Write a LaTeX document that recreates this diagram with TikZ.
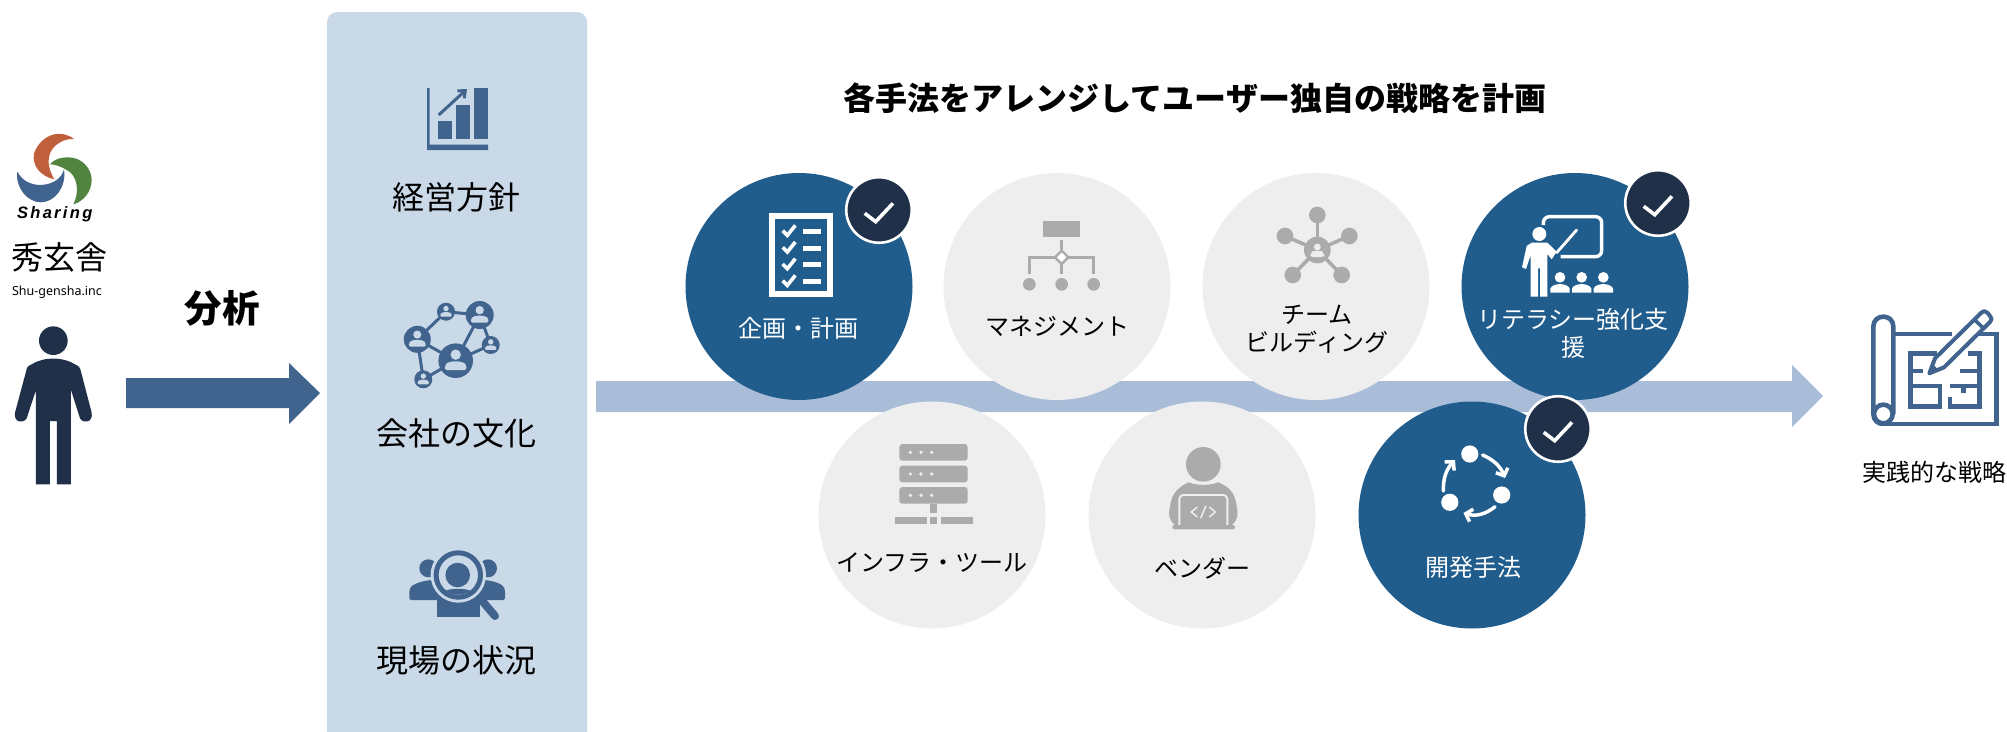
\documentclass[tikz,border=0pt]{standalone}
\usepackage{fontspec}
\usetikzlibrary{arrows.meta}
\setmainfont{Noto Sans CJK JP}
\newfontfamily\sharefont[LetterSpace=14]{Liberation Sans}
\newfontfamily\latinfont{Noto Sans}
\definecolor{panelblue}{HTML}{CAD9E7}
\definecolor{steel}{HTML}{41648F}
\definecolor{lightarrow}{HTML}{A9BDD9}
\definecolor{navy}{HTML}{203049}
\definecolor{deepblue}{HTML}{205C8C}
\definecolor{paper}{HTML}{EEEEEE}
\definecolor{icongray}{HTML}{ABABAB}
\definecolor{logoorange}{HTML}{C05F3C}
\definecolor{logogreen}{HTML}{50843F}
\tikzset{
  lab/.style={inner sep=0pt,align=center,text=black,font=\fontsize{24}{28}\selectfont},
  wlab/.style={lab,text=white},
  panellab/.style={inner sep=0pt,font=\fontsize{32}{36}\selectfont},
  darkdisc/.style={circle,fill=deepblue,minimum size=227pt,inner sep=0pt},
  graydisc/.style={circle,fill=paper,minimum size=227pt,inner sep=0pt},
  badge/.style={circle,fill=navy,draw=white,line width=2.6pt,minimum size=65.5pt,inner sep=0pt},
  tick/.style={white,line width=3.6pt,line join=miter},
  zoomed/.style={scale=0.33333},
}
\newcommand{\tickmark}[1]{\draw[tick] ([shift={(-14.3,3.3)}]#1.center) -- ([shift={(-3.3,11.7)}]#1.center) -- ([shift={(14,-6.7)}]#1.center);}
\newcommand{\miniperson}[4]{% x y size colour
  \fill[#4] (#1,#2-0.35*#3) circle[radius=0.3*#3 pt];
  \fill[#4,rounded corners=0.1*#3 pt] (#1-0.62*#3,#2+0.55*#3) -- (#1-0.62*#3,#2+0.28*#3) .. controls (#1-0.4*#3,#2-0.02*#3) and (#1+0.4*#3,#2-0.02*#3) .. (#1+0.62*#3,#2+0.28*#3) -- (#1+0.62*#3,#2+0.55*#3) -- cycle;}
\begin{document}
\begin{tikzpicture}[x=1pt,y=-1pt]
\useasboundingbox (0,0) rectangle (2007,731);
% ---------- logo
\begin{scope}[shift={(0,125)},zoomed]
  \fill[logoorange] (222,42) .. controls (185,12) and (125,25) .. (102,85) .. controls (95,125) and (125,155) .. (163,163)
     .. controls (150,140) and (140,115) .. (150,85) .. controls (160,60) and (190,40) .. (222,42) -- cycle;
  \fill[steel] (52,140) .. controls (45,190) and (85,232) .. (122,232) .. controls (165,232) and (200,185) .. (192,133)
     .. controls (185,160) and (160,178) .. (122,180) .. controls (90,180) and (65,165) .. (52,140) -- cycle;
  \fill[logogreen] (150,118) .. controls (165,100) and (185,97) .. (205,97) .. controls (245,97) and (275,130) .. (275,165)
     .. controls (275,200) and (250,230) .. (220,238) .. controls (240,200) and (232,150) .. (200,135) .. controls (185,125) and (165,118) .. (150,118) -- cycle;
\end{scope}
\node[inner sep=0pt] (sharing) at (54.7,214) {\sharefont\fontsize{16.5}{18}\selectfont\bfseries\itshape Sharing};
\node[inner sep=0pt] (company) at (59,257) {\fontsize{32}{34}\selectfont 秀玄舎};
\node[inner sep=0pt] (companyen) at (57,292) {\latinfont\fontsize{12.5}{15}\selectfont Shu-gensha.inc};
% ---------- person
\begin{scope}[shift={(0,110)},zoomed]
  \fill[navy] (160,692) circle[radius=43pt];
  \fill[navy] (108,1123) -- (108,840) -- (80,925) .. controls (70,942) and (40,938) .. (45,908) -- (78,785)
    .. controls (80,770) and (85,768) .. (95,763) .. controls (130,740) and (190,740) .. (225,763)
    .. controls (235,768) and (240,770) .. (243,785) -- (275,908) .. controls (280,938) and (250,942) .. (240,925)
    -- (213,840) -- (213,1123) -- (171,1123) -- (171,933) -- (150,933) -- (150,1123) -- cycle;
\end{scope}
% ---------- analysis arrow
\fill[steel] (126,378) -- (289,378) -- (289,363) -- (320,393) -- (289,424) -- (289,408) -- (126,408) -- cycle;
\node[inner sep=0pt,font=\fontsize{37.5}{40}\selectfont\bfseries] (analysis) at (222,308) {分析};
% ---------- panel
\fill[panelblue,rounded corners=10pt] (327,12) -- (587,12) -- (587,760) -- (327,760) -- cycle;
\node[panellab] (p1) at (456,197) {経営方針};
\node[panellab] (p2) at (456,433) {会社の文化};
\node[panellab] (p3) at (456,660) {現場の状況};
% chart icon
\fill[steel] (427,88) -- (429.5,88) -- (429.5,144.5) -- (488,144.5) -- (488,150) -- (427,150) -- cycle;
\fill[steel] (438.3,121) rectangle (451.7,139);
\fill[steel] (456,105) rectangle (470,139);
\fill[steel] (474,88) rectangle (488,139);
\draw[steel,line width=3pt,-{Straight Barb[length=6pt,width=10pt]}] (438.7,115) -- (467,89);
% network icon
\draw[steel,line width=3pt] (417.3,339.3) -- (446,311.7) -- (479.7,315) -- (455.7,360.7) -- (417.3,339.3) -- (423.3,379.3) -- (455.7,360.7) -- (490.7,345) -- (479.7,315);
\foreach \nx/\ny/\nr in {455.7/360.7/17.3,417.3/339.3/13.5,479.7/315/14,446/311.7/9,490.7/345/9,423.3/379.3/9}{
  \fill[steel] (\nx,\ny) circle[radius=\nr pt];
  \miniperson{\nx}{\ny}{\nr}{panelblue}
}
% magnifier icon
\fill[steel] (428.3,568.3) circle[radius=9pt];
\fill[steel] (488,568.3) circle[radius=9pt];
\fill[steel,rounded corners=2pt] (409.3,600) -- (409.3,590) .. controls (412,584) and (422,581) .. (432,580) -- (484,580) .. controls (494,581) and (503,584) .. (505,590) -- (505,600) -- cycle;
\fill[steel] (436.7,617) rectangle (480,600);
\fill[panelblue] (458.3,575) circle[radius=27.7pt];
\draw[steel,line width=5pt] (458.3,575) circle[radius=22.2pt];
\begin{scope}
  \clip (458.3,575) circle[radius=18.5pt];
  \fill[steel] (457.7,575) circle[radius=12.3pt];
\end{scope}
\begin{scope}
  \clip (458.3,575) circle[radius=19.7pt];
  \fill[steel] (432,610) -- (432,600) .. controls (441,585) and (475,585) .. (484,600) -- (484,610) -- cycle;
\end{scope}
\draw[steel,line width=8pt,line cap=round] (480,598.3) -- (495,616);
% ---------- main arrow
\fill[lightarrow] (596,381) -- (1792,381) -- (1792,365) -- (1823,396) -- (1792,427) -- (1792,412) -- (596,412) -- cycle;
\node[inner sep=0pt,font=\fontsize{32}{36}\selectfont\bfseries] (title) at (1195,98) {各手法をアレンジしてユーザー独自の戦略を計画};
% ---------- discs
\node[darkdisc] (c1) at (799,286.5) {};
\node[graydisc] (c2) at (1057,286.5) {};
\node[graydisc] (c3) at (1316,286.5) {};
\node[darkdisc] (c4) at (1575,286.5) {};
\node[graydisc] (c5) at (932,515) {};
\node[graydisc] (c6) at (1202,515) {};
\node[darkdisc] (c7) at (1472,515) {};
\node[badge] (b1) at (879,210) {};
\node[badge] (b4) at (1658,203) {};
\node[badge] (b7) at (1558,429) {};
\tickmark{b1}\tickmark{b4}\tickmark{b7}
\node[wlab] (l1) at (798,328) {企画・計画};
\node[lab] (l2) at (1057,326) {マネジメント};
\node[lab] (l3) at (1317,329.5) {チーム\\ビルディング};
\node[wlab] (l4) at (1573,333.5) {リテラシー強化支\\援};
\node[lab] (l5) at (932,563) {インフラ・ツール};
\node[lab] (l6) at (1202,568) {ベンダー};
\node[wlab] (l7) at (1473,567) {開発手法};
\node[lab] (l8) at (1934,472) {実践的な戦略};
% checklist icon
\begin{scope}[shift={(670,160)},zoomed]
  \draw[white,line width=6pt] (305,169) rectangle (481,402);
  \foreach \yy in {214,264,314,364}{
    \fill[white] (400,\yy-7) rectangle (453,\yy+8);
    \draw[white,line width=3.6pt] (338,\yy-2) -- (352,\yy+12) -- (376,\yy-18);
  }
\end{scope}
% organisation icon
\begin{scope}[shift={(670,160)},zoomed]
  \fill[icongray] (1119,183) rectangle (1230,231);
  \draw[icongray,line width=3.6pt] (1175,240) -- (1175,342);
  \draw[icongray,line width=3.6pt] (1078,342) -- (1078,292) -- (1271,292) -- (1271,342);
  \draw[icongray,fill=white,line width=2.4pt] (1175,272) -- (1195,292) -- (1175,312) -- (1155,292) -- cycle;
  \foreach \xx in {1078,1175,1271}{\fill[icongray] (\xx,373) circle[radius=19pt];}
\end{scope}
% team icon
\begin{scope}[shift={(1190,160)},zoomed]
  \foreach \xx/\yy in {382/165,285/228,478/228,308/345,455/345}{
    \draw[icongray,line width=3.6pt] (382,270) -- (\xx,\yy);
    \fill[icongray] (\xx,\yy) circle[radius=25pt];
  }
  \fill[icongray] (382,270) circle[radius=40pt];
  \miniperson{382}{273}{34}{paper}
\end{scope}
% teacher icon
\begin{scope}[shift={(1190,160)},zoomed]
  \draw[white,line width=3.4pt,rounded corners=6pt] (1060,195) -- (1060,170) -- (1235,170) -- (1235,290) -- (1112,290);
  \fill[white] (1048,222) circle[radius=21pt];
  \fill[white] (1025,248) -- (1072,248) -- (1100,275) -- (1085,298) -- (1072,282) -- (1072,410) -- (1050,410) -- (1050,325) -- (1044,325) -- (1044,410) -- (1022,410) -- (1022,285) -- (1008,327) -- (996,322) -- (1010,258) -- cycle;
  \draw[white,line width=2.8pt,line cap=round] (1100,278) -- (1160,210);
  \foreach \xx in {1110,1175,1240}{
    \fill[white] (\xx,352) circle[radius=16pt];
    \fill[white] (\xx-29,398) -- (\xx-29,385) .. controls (\xx-20,368) and (\xx+20,368) .. (\xx+29,385) -- (\xx+29,398) -- cycle;
  }
\end{scope}
% server icon
\begin{scope}[shift={(800,395)},zoomed]
  \foreach \yy in {147,212,276}{
    \fill[icongray,rounded corners=3pt] (298,\yy) rectangle (503,\yy+50);
    \foreach \xx in {331,363,395}{\fill[paper] (\xx,\yy+25) circle[radius=5.5pt];}
  }
  \fill[icongray] (390,326) rectangle (411,355);
  \fill[icongray] (285,366) rectangle (380,386);
  \fill[icongray] (390,366) rectangle (411,386);
  \fill[icongray] (423,366) rectangle (519,386);
\end{scope}
% vendor icon
\begin{scope}[shift={(800,395)},zoomed]
  \fill[icongray] (1210,208) circle[radius=52pt];
  \fill[icongray] (1125,390) .. controls (1105,375) and (1105,355) .. (1110,335) .. controls (1115,290) and (1140,275) .. (1165,262) .. controls (1190,272) and (1230,272) .. (1255,262) .. controls (1285,275) and (1305,290) .. (1310,335) .. controls (1315,355) and (1315,375) .. (1295,390) -- cycle;
  \draw[paper,line width=1.9pt,rounded corners=4pt] (1138,392) -- (1138,300) -- (1282,300) -- (1282,392);
  \fill[icongray,rounded corners=2pt] (1117,390) rectangle (1305,403);
  \draw[paper,line width=1.5pt] (1192,336) -- (1174,351) -- (1192,366);
  \draw[paper,line width=1.5pt] (1228,336) -- (1246,351) -- (1228,366);
  \draw[paper,line width=1.5pt] (1218,332) -- (1202,370);
\end{scope}
% cycle icon
\foreach \xx/\yy in {1469.8/454,1501.7/495,1449.8/502.3}{\fill[white] (\xx,\yy) circle[radius=8.6pt];}
\draw[white,line width=3.5pt,line cap=round,-{Straight Barb[length=6pt,width=13pt]}] (1482.6,455) to[bend left=22] (1505,478);
\draw[white,line width=3.5pt,line cap=round,-{Straight Barb[length=6pt,width=13pt]}] (1495,506.7) to[bend left=28] (1463.4,513);
\draw[white,line width=3.5pt,line cap=round,-{Straight Barb[length=6pt,width=13pt]}] (1443.4,491) to[bend left=22] (1455,460);
% plan icon
\begin{scope}[shift={(1840,290)},zoomed]
  \draw[steel,line width=4.6pt] (160,132) -- (335,132);
  \draw[steel,line width=4.6pt] (395,132) -- (470,132) -- (470,402) -- (130,402);
  \draw[steel,line width=4.6pt] (160,372) -- (160,110) .. controls (160,70) and (100,70) .. (100,110) -- (100,372) .. controls (100,392) and (115,402) .. (130,402);
  \draw[steel,line width=4.6pt] (130,372) circle[radius=28pt];
  \draw[steel,line width=4.4pt] (290,190) -- (212,190) -- (212,350) -- (300,350) -- (300,288) -- (212,288);
  \draw[steel,line width=4.4pt] (212,243) -- (250,243);
  \draw[steel,line width=4.4pt] (385,190) -- (418,190) -- (418,350) -- (330,350) -- (330,320);
  \draw[steel,line width=4.4pt] (330,288) -- (418,288);
  \draw[steel,line width=4.4pt] (360,243) -- (418,243);
  \draw[steel,line width=4.4pt] (370,288) -- (370,310);
  \draw[steel,fill=white,line width=4pt,line join=round] (268,250) -- (285,205) -- (424,68) .. controls (430,62) and (436,62) .. (442,68) -- (450,78) .. controls (456,84) and (456,90) .. (450,96) -- (312,232) -- cycle;
  \fill[steel] (268,250) -- (278,222) -- (296,240) -- cycle;
  \draw[steel,line width=3.6pt] (403,89) -- (432,116);
\end{scope}
\end{tikzpicture}
\end{document}
